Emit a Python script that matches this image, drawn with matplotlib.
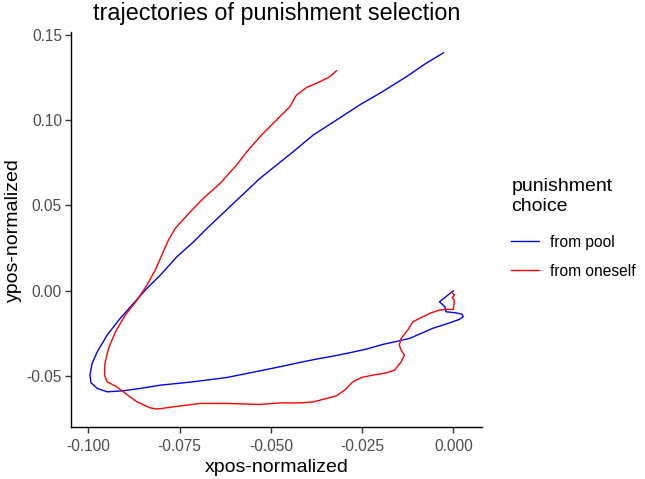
import numpy as np
import matplotlib
matplotlib.use("Agg")
import matplotlib.pyplot as plt

plt.rcParams['font.family'] = ['Liberation Sans', 'DejaVu Sans']

# trajectory: from pool (blue)
pool_x = [0.0000, -0.0038, -0.0023, -0.0020, 0.0007, 0.0024, 0.0027, 0.0016, -0.0020,
          -0.0057, -0.0093, -0.0120, -0.0148, -0.0193, -0.0239, -0.0284, -0.0330,
          -0.0375, -0.0421, -0.0475, -0.0530, -0.0621, -0.0712, -0.0803, -0.0858,
          -0.0904, -0.0949, -0.0976, -0.0993, -0.0996, -0.0990, -0.0976, -0.0949,
          -0.0917, -0.0881, -0.0840, -0.0803, -0.0758, -0.0712, -0.0680, -0.0603,
          -0.0530, -0.0439, -0.0384, -0.0320, -0.0257, -0.0202, -0.0129, -0.0075,
          -0.0027]
pool_y = [0.0000, -0.0064, -0.0094, -0.0123, -0.0129, -0.0137, -0.0152, -0.0168, -0.0195,
          -0.0220, -0.0254, -0.0279, -0.0293, -0.0314, -0.0342, -0.0363, -0.0383,
          -0.0400, -0.0420, -0.0445, -0.0469, -0.0508, -0.0533, -0.0553, -0.0572,
          -0.0586, -0.0592, -0.0572, -0.0539, -0.0494, -0.0426, -0.0358, -0.0260,
          -0.0172, -0.0084, 0.0014, 0.0092, 0.0199, 0.0287, 0.0356, 0.0512,
          0.0659, 0.0815, 0.0913, 0.1001, 0.1089, 0.1157, 0.1254, 0.1333,
          0.1395]

# from oneself (red)
self_x = [-0.0005, 0.0003, -0.0003, 0.0003, 0.0000, -0.0020, -0.0038, -0.0061, -0.0093,
          -0.0111, -0.0125, -0.0143, -0.0148, -0.0143, -0.0134, -0.0143, -0.0161,
          -0.0184, -0.0220, -0.0252, -0.0275, -0.0298, -0.0320, -0.0348, -0.0384,
          -0.0421, -0.0475, -0.0530, -0.0621, -0.0694, -0.0767, -0.0812, -0.0831,
          -0.0867, -0.0899, -0.0922, -0.0949, -0.0956, -0.0955, -0.0945, -0.0926,
          -0.0899, -0.0867, -0.0840, -0.0817, -0.0799, -0.0781, -0.0762, -0.0721,
          -0.0685, -0.0639, -0.0594, -0.0566, -0.0530, -0.0494, -0.0448, -0.0430,
          -0.0402, -0.0366, -0.0339, -0.0320]
self_y = [-0.0008, -0.0025, -0.0040, -0.0055, -0.0109, -0.0109, -0.0113, -0.0129, -0.0162,
          -0.0182, -0.0230, -0.0279, -0.0318, -0.0348, -0.0377, -0.0416, -0.0465,
          -0.0481, -0.0494, -0.0508, -0.0533, -0.0582, -0.0615, -0.0631, -0.0651,
          -0.0657, -0.0657, -0.0666, -0.0660, -0.0660, -0.0680, -0.0693, -0.0686,
          -0.0651, -0.0601, -0.0563, -0.0533, -0.0494, -0.0426, -0.0338, -0.0240,
          -0.0142, -0.0055, 0.0033, 0.0121, 0.0209, 0.0297, 0.0366, 0.0463,
          0.0542, 0.0630, 0.0737, 0.0815, 0.0903, 0.0981, 0.1079, 0.1147,
          0.1192, 0.1225, 0.1254, 0.1290]

x_ticks = [-0.100, -0.075, -0.050, -0.025, 0.000]
y_ticks = [-0.05, 0.00, 0.05, 0.10, 0.15]

fig = plt.figure(figsize=(6.45, 4.79), dpi=100)
ax = fig.add_axes([0.110, 0.1086, 0.637, 0.824])

ax.plot(pool_x, pool_y, color='blue', lw=1.0, label='from pool')
ax.plot(self_x, self_y, color='red', lw=1.0, label='from oneself')

ax.set_xlim(-0.1048, 0.0078)
ax.set_ylim(-0.0798, 0.1515)
ax.set_xticks(x_ticks)
ax.set_xticklabels(['%.3f' % v for v in x_ticks])
ax.set_yticks(y_ticks)
ax.set_yticklabels(['%.2f' % v for v in y_ticks])

for s in ['top', 'right']:
    ax.spines[s].set_visible(False)
for s in ['left', 'bottom']:
    ax.spines[s].set_linewidth(1.0)
    ax.spines[s].set_color('black')
ax.tick_params(length=4, width=1.0, color='#333333', labelcolor='#4D4D4D',
               labelsize=11.2, pad=2.5)
ax.tick_params(axis='x', pad=4.5)

ax.set_xlabel('xpos-normalized', fontsize=14, labelpad=4)
ax.set_ylabel('ypos-normalized', fontsize=14, labelpad=3)
ax.set_title('trajectories of punishment selection', fontsize=16.8, pad=9)

leg = ax.legend(title='punishment\nchoice', loc='upper left',
                bbox_to_anchor=(0.793, 0.628), bbox_transform=fig.transFigure,
                frameon=False, fontsize=11.2, title_fontsize=14,
                handlelength=1.75, handletextpad=0.7, labelspacing=0.9,
                borderpad=0, borderaxespad=0, alignment='left')
# ggplot leaves a wider gap between legend title and keys
leg._legend_box.sep = 14.5

fig.savefig('out.png', dpi=100)
